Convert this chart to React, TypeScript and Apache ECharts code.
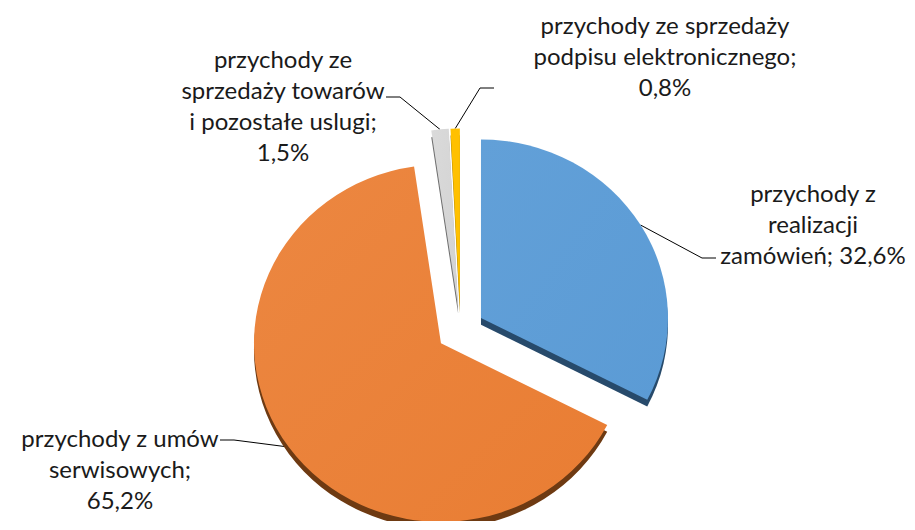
import React, { useEffect, useRef } from "react";
import * as echarts from "echarts";

const categories = [
  "przychody z realizacji zamówień",
  "przychody z umów serwisowych",
  "przychody ze sprzedaży towarów i pozostałe uslugi",
  "przychody ze sprzedaży podpisu elektronicznego",
];
const values = [32.6, 65.2, 1.5, 0.8];
const labelTexts = [
  "przychody z\nrealizacji\nzamówień;",
  "przychody z umów\nserwisowych;",
  "przychody ze\nsprzedaży towarów\ni pozostałe uslugi;",
  "przychody ze sprzedaży\npodpisu elektronicznego;",
];
const labelSeparators = [" ", "\n", "\n", "\n"];

const colors = ["#5B9BD5", "#E97D33", "#D2D2D2", "#FFC000"];
const colorsLight = ["#62A0D8", "#EC8741", "#DADADA", "#FFC000"];
const darkColors = ["#274A6B", "#6E3A12", "#6E6E6E", "#A57C00"];
// label text block centres
const labelPos = [
  { x: 813, y: 223 },
  { x: 120, y: 468 },
  { x: 283, y: 105 },
  { x: 665, y: 55 },
];
// where each leader line meets its label, and the horizontal direction of its last segment
const labelAnchor = [
  { x: 716, y: 258, dir: -1 },
  { x: 220, y: 440, dir: 1 },
  { x: 386, y: 97, dir: 1 },
  { x: 494, y: 88, dir: -1 },
];

const CX = 460.5;
const CY = 330;
const RADIUS = 187;
const OFFSET = 24;
const DEPTH = 7;
const TILT = 0.955; // vertical squash of the 3-D pie

export default function App() {
  const labelRef = useRef<HTMLDivElement>(null);
  const pieRef = useRef<HTMLDivElement>(null);
  useEffect(() => {
    if (!labelRef.current || !pieRef.current) return;
    const labelChart = echarts.init(labelRef.current, null, { renderer: "svg" });
    const pieChart = echarts.init(pieRef.current, null, { renderer: "svg" });
    const fmt = (v: number) => v.toFixed(1).replace(".", ",") + "%";
    const lineLen = 20;
    const elbow = 14;

    labelChart.setOption({
      animation: false,
      backgroundColor: "#ffffff",
      series: [
        {
          type: "pie",
          silent: true,
          center: [CX, CY],
          radius: RADIUS,
          startAngle: 90,
          selectedMode: false,
          avoidLabelOverlap: false,
          itemStyle: { color: "rgba(0,0,0,0)" },
          label: {
            show: true,
            position: "outside",
            color: "#1a1a1a",
            fontFamily: "Lato",
            fontSize: 24,
            lineHeight: 31,
            align: "center",
            formatter: (p: any) => labelTexts[p.dataIndex] + labelSeparators[p.dataIndex] + fmt(p.value),
          },
          labelLine: {
            show: true,
            length: lineLen,
            length2: elbow,
            lineStyle: { color: "#000000", width: 1 },
          },
          labelLayout: (p: any) => {
            const i = p.dataIndex;
            const a = labelAnchor[i];
            const out: any = {
              x: labelPos[i].x,
              y: labelPos[i].y,
              align: "center",
              verticalAlign: "middle",
              hideOverlap: false,
              moveOverlap: false,
            };
            const pts = p.labelLinePoints;
            if (pts && pts.length >= 2) {
              const nx = (pts[1][0] - pts[0][0]) / lineLen;
              const ny = (pts[1][1] - pts[0][1]) / lineLen;
              const sx = pts[0][0] + nx * OFFSET;
              const sy = pts[0][1] + ny * OFFSET;
              const start = [sx, CY + (sy - CY) * TILT];
              out.labelLinePoints = [start, [a.x + a.dir * elbow, a.y], [a.x, a.y]];
            }
            return out;
          },
          data: categories.map((c, i) => ({ name: c, value: values[i] })),
        },
      ],
    });

    pieChart.setOption({
      animation: false,
      series: [
        {
          type: "pie",
          silent: true,
          z: 1,
          center: [CX, CY + DEPTH],
          radius: RADIUS,
          startAngle: 90,
          selectedMode: "multiple",
          selectedOffset: OFFSET,
          label: { show: false },
          labelLine: { show: false },
          data: categories.map((c, i) => ({
            name: c,
            value: values[i],
            selected: true,
            itemStyle: { color: darkColors[i] },
          })),
        },
        {
          type: "pie",
          z: 2,
          center: [CX, CY],
          radius: RADIUS,
          startAngle: 90,
          selectedMode: "multiple",
          selectedOffset: OFFSET,
          label: { show: false },
          labelLine: { show: false },
          data: categories.map((c, i) => ({
            name: c,
            value: values[i],
            selected: true,
            itemStyle: {
              color: new echarts.graphic.LinearGradient(0, 0, 1, 1, [
                { offset: 0, color: colorsLight[i] },
                { offset: 1, color: colors[i] },
              ]),
            },
          })),
        },
      ],
    });
    return () => {
      labelChart.dispose();
      pieChart.dispose();
    };
  }, []);
  return (
    <div style={{ position: "absolute", left: 0, top: 0, width: 915, height: 530, overflow: "hidden" }}>
      <div
        ref={labelRef}
        style={{ position: "absolute", left: 0, top: 0, width: 915, height: 530 }}
      />
      <div
        ref={pieRef}
        style={{
          position: "absolute",
          left: 0,
          top: 0,
          width: 915,
          height: 530,
          transform: `scaleY(${TILT})`,
          transformOrigin: `0px ${CY}px`,
        }}
      />
    </div>
  );
}
